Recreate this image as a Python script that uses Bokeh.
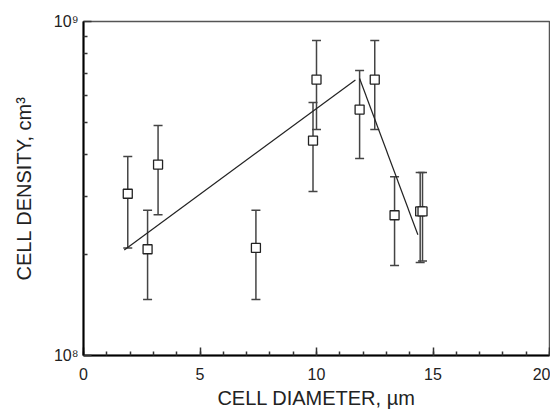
from bokeh.plotting import figure
from bokeh.models import ColumnDataSource, Whisker, TeeHead, FixedTicker, Range1d
from bokeh.embed import file_html
from bokeh.resources import INLINE

# Data
diameter = [1.9, 3.2, 2.75, 7.4, 9.85, 10.0, 11.85, 12.5, 13.35, 14.45, 14.55]
density = [3.05e8, 3.73e8, 2.08e8, 2.1e8, 4.4e8, 6.7e8, 5.45e8, 6.7e8, 2.63e8, 2.7e8, 2.7e8]
upper = [3.94e8, 4.88e8, 2.72e8, 2.72e8, 5.72e8, 8.77e8, 7.13e8, 8.77e8, 3.43e8, 3.53e8, 3.53e8]
lower = [2.1e8, 2.64e8, 1.47e8, 1.47e8, 3.1e8, 4.75e8, 3.89e8, 4.75e8, 1.86e8, 1.9e8, 1.92e8]

fit1_x = [1.75, 11.67]
fit1_y = [2.07e8, 6.68e8]
fit2_x = [11.85, 14.35]
fit2_y = [6.75e8, 2.3e8]

x_ticks = [0, 5, 10, 15, 20]
x_minor = list(range(0, 21))
y_ticks = [1e8, 1e9]
y_minor = [2e8, 3e8, 4e8, 5e8, 6e8, 7e8, 8e8, 9e8]
y_labels = {1e8: "10⁸", 1e9: "10⁹"}

FONT = "Liberation Sans"

p = figure(width=550, height=406, frame_width=466, frame_height=334,
           output_backend="svg", toolbar_location=None,
           y_axis_type="log", x_range=Range1d(0, 20), y_range=Range1d(1e8, 1e9),
           min_border_left=83, min_border_right=1, min_border_top=21, min_border_bottom=51)
p.grid.visible = False
p.outline_line_color = "#555555"
p.outline_line_width = 1.5
p.background_fill_color = "white"
p.border_fill_color = "white"

src = ColumnDataSource(dict(x=diameter, y=density, up=upper, lo=lower))

p.line(fit1_x, fit1_y, line_color="#222222", line_width=1.2)
p.line(fit2_x, fit2_y, line_color="#222222", line_width=1.2)

wh = Whisker(source=src, base="x", upper="up", lower="lo", dimension="height",
             line_color="#444444", line_width=1.5,
             upper_head=TeeHead(size=9, line_color="#444444", line_width=1.5),
             lower_head=TeeHead(size=9, line_color="#444444", line_width=1.5))
p.add_layout(wh)

p.scatter("x", "y", source=src, marker="square", size=9, fill_color="white",
          line_color="#222222", line_width=1.3)

xa = p.xaxis[0]
xa.ticker = FixedTicker(ticks=x_ticks, minor_ticks=x_minor)
xa.axis_label = "CELL DIAMETER, µm"
ya = p.yaxis[0]
ya.ticker = FixedTicker(ticks=y_ticks, minor_ticks=y_minor)
ya.major_label_overrides = y_labels
ya.axis_label = "CELL DENSITY, cm³"

for ax in (xa, ya):
    ax.axis_line_color = "black"
    ax.axis_line_width = 2
    ax.major_tick_in = 8
    ax.major_tick_out = 0
    ax.minor_tick_in = 4
    ax.minor_tick_out = 0
    ax.major_tick_line_color = "#333333"
    ax.minor_tick_line_color = "#333333"
    ax.major_tick_line_width = 1.5
    ax.minor_tick_line_width = 1.5
    ax.major_label_text_font = FONT
    ax.major_label_text_font_size = "16px"
    ax.major_label_text_color = "#222222"
    ax.axis_label_text_font = FONT
    ax.axis_label_text_font_size = "20px"
    ax.axis_label_text_font_style = "normal"
    ax.axis_label_text_color = "#222222"

xa.major_label_standoff = 12
xa.axis_label_standoff = 4
ya.major_label_standoff = 5
ya.axis_label_standoff = 16

open("out.html", "w").write(file_html(p, INLINE))
